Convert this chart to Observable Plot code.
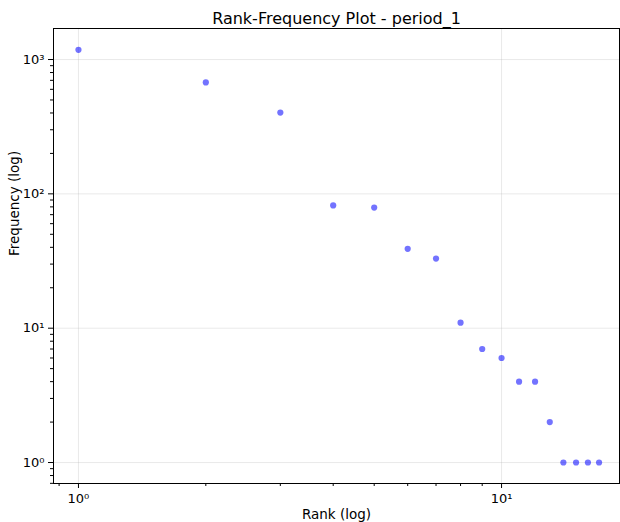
<!DOCTYPE html>
<html>
<head>
<meta charset="utf-8">
<script src="https://cdn.jsdelivr.net/npm/d3@7"></script>
<script src="https://cdn.jsdelivr.net/npm/@observablehq/plot@0.6"></script>
<style>
  html, body { margin: 0; padding: 0; background: #fff; }
  svg { display: block; }
</style>
</head>
<body>
<div id="chart"></div>
<script>
const ranks = [1, 2, 3, 4, 5, 6, 7, 8, 9, 10, 11, 12, 13, 14, 15, 16, 17];
const frequencies = [1180, 675, 403, 82, 79, 39, 33, 11, 7, 6, 4, 4, 2, 1, 1, 1, 1];
const xMajorTicks = [1, 10];
const xMinorTicks = [0.9, 2, 3, 4, 5, 6, 7, 8, 9];
const yMajorTicks = [1, 10, 100, 1000];
const yMinorTicks = [0.7, 0.8, 0.9, 2, 3, 4, 5, 6, 7, 8, 9, 20, 30, 40, 50, 60, 70, 80, 90, 200, 300, 400, 500, 600, 700, 800, 900];

const data = ranks.map((r, i) => ({rank: r, freq: frequencies[i]}));
const sup = {"0": "⁰", "1": "¹", "2": "²", "3": "³", "-": "⁻"};
const fmt = d => "10" + String(Math.round(Math.log10(d))).split("").map(c => sup[c]).join("");

const plot = Plot.plot({
  width: 620,
  height: 522,
  marginTop: 28,
  marginBottom: 39,
  marginLeft: 53,
  marginRight: 1,
  style: {fontFamily: "DejaVu Sans", fontSize: "12px", color: "#000", background: "#fff"},
  x: {type: "log", domain: [0.873, 19.0]},
  y: {type: "log", domain: [0.698, 1702]},
  marks: [
    Plot.gridX(xMajorTicks, {stroke: "#b0b0b0", strokeOpacity: 0.35, strokeWidth: 0.8}),
    Plot.gridY(yMajorTicks, {stroke: "#b0b0b0", strokeOpacity: 0.35, strokeWidth: 0.8}),
    Plot.axisX(xMinorTicks, {tickSize: 3, tickFormat: () => "", label: null, stroke: "#000"}),
    Plot.axisY(yMinorTicks, {tickSize: 3, tickFormat: () => "", label: null, stroke: "#000"}),
    Plot.axisX(xMajorTicks, {tickSize: 5, tickPadding: 5, tickFormat: fmt, fontSize: 13, label: null, stroke: "#000"}),
    Plot.axisY(yMajorTicks, {tickSize: 5, tickPadding: 4, tickFormat: fmt, fontSize: 13, label: null, stroke: "#000"}),
    Plot.frame({stroke: "#000", strokeWidth: 1}),
    Plot.dot(data, {x: "rank", y: "freq", r: 3.1, fill: "#0000ff", fillOpacity: 0.55, stroke: "none"}),
    Plot.text(["Rank-Frequency Plot - period_1"], {frameAnchor: "top", lineAnchor: "middle", dy: -10, fontSize: 16, fill: "#000"}),
    Plot.text(["Rank (log)"], {frameAnchor: "bottom", lineAnchor: "middle", dy: 31, fontSize: 13.5, fill: "#000"}),
    Plot.text(["Frequency (log)"], {frameAnchor: "left", lineAnchor: "middle", dx: -39, rotate: -90, fontSize: 13.5, fill: "#000"})
  ]
});
document.getElementById("chart").appendChild(plot);
</script>
</body>
</html>
